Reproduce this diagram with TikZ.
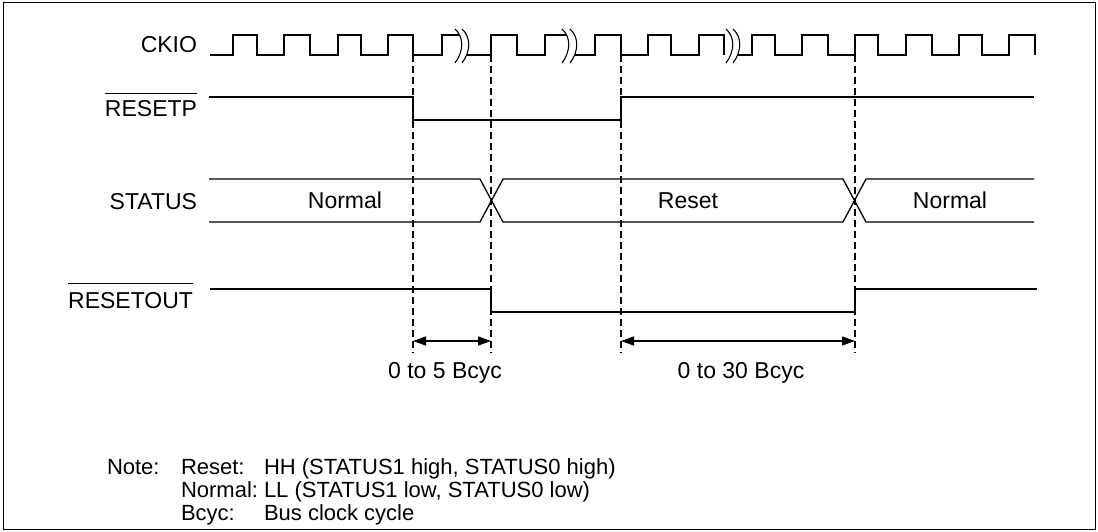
\documentclass[tikz,border=0pt]{standalone}
\usepackage{fontspec}
\setmainfont{Liberation Sans}
\usetikzlibrary{arrows.meta}
\begin{document}
\begin{tikzpicture}[x=1pt,y=-1pt,
  sig/.style={line width=1.3pt, line join=miter},
  guide/.style={line width=1.1pt, dash pattern=on 7pt off 4pt},
  txt/.style={font=\fontsize{23}{27}\selectfont, inner sep=0pt, outer sep=0pt},
  notetxt/.style={font=\fontsize{22}{26}\selectfont, inner sep=0pt, outer sep=0pt},
  dimarrow/.style={line width=1.3pt, {Triangle[length=13pt,width=9pt]}-{Triangle[length=13pt,width=9pt]}},
  brk/.style={line width=1.1pt},
  frame/.style={line width=1pt}]
\useasboundingbox (0,0) rectangle (1098,532);
\draw[frame] (3,3) rectangle (1095,529);

% signal labels
\node[txt, anchor=base east] (lck) at (197,53) {CKIO};
\node[txt, anchor=base east] (lrp) at (197,117) {RESETP};
\node[txt, anchor=base east] (lst) at (197,209) {STATUS};
\node[txt, anchor=base east] (lro) at (193,308) {RESETOUT};
\draw[line width=1pt] ([yshift=7pt]lrp.north west) -- ([yshift=7pt]lrp.north east);
\draw[line width=1pt] ([yshift=8pt]lro.north west) -- ([yshift=8pt]lro.north east);

% CKIO
\draw[sig] (210,55) -- (233,55) -- (233,35) -- (257,35) -- (257,55) -- (284,55) -- (284,35) -- (310,35) -- (310,55) -- (338,55) -- (338,35) -- (361,35) -- (361,55) -- (388,55) -- (388,35) -- (413,35) -- (413,55) -- (442,55) -- (442,35) -- (459,35);
\draw[sig] (467,55) -- (491,55) -- (491,35) -- (517,35) -- (517,55) -- (545,55) -- (545,35) -- (566,35);
\draw[sig] (574,55) -- (595,55) -- (595,35) -- (621,35) -- (621,55) -- (648,55) -- (648,35) -- (671,35) -- (671,55) -- (699,55) -- (699,35) -- (724,35) -- (724,55);
\draw[sig] (737,55) -- (752,55) -- (752,35) -- (775,35) -- (775,55) -- (802,55) -- (802,35) -- (828,35) -- (828,55) -- (855,55) -- (855,35) -- (878,35) -- (878,55) -- (906,55) -- (906,35) -- (932,35) -- (932,55) -- (959,55) -- (959,35) -- (982,35) -- (982,55) -- (1009,55) -- (1009,35) -- (1035,35) -- (1035,55);
% break marks
\foreach \bx in {455,462,562,570,726,733}
  \draw[brk] (\bx,29) .. controls (\bx+9,37) and (\bx+9,51) .. (\bx,63);

% RESETP
\draw[sig] (209,97) -- (413,97) -- (413,120) -- (621,120) -- (621,97) -- (1034,97);

% STATUS
\draw[sig] (209,179) -- (480,179) -- (503,222) -- (843,222) -- (866,179) -- (1034,179);
\draw[sig] (209,222) -- (480,222) -- (503,179) -- (843,179) -- (866,222) -- (1034,222);
\node[txt, anchor=base] (sn1) at (345,208) {Normal};
\node[txt, anchor=base] (sr) at (688,208) {Reset};
\node[txt, anchor=base] (sn2) at (950,208) {Normal};

% RESETOUT
\draw[sig] (210,289) -- (491,289) -- (491,312) -- (855,312) -- (855,289) -- (1037,289);

% guides
\coordinate (g1t) at (413,55); \coordinate (g1b) at (413,353);
\coordinate (g2t) at (491,55); \coordinate (g2b) at (491,353);
\coordinate (g3t) at (621,55); \coordinate (g3b) at (621,353);
\coordinate (g4t) at (855,55); \coordinate (g4b) at (855,353);
\foreach \g in {1,2,3,4} \draw[guide] (g\g t) -- (g\g b);

% dimension arrows
\coordinate (a1l) at (413,341); \coordinate (a1r) at (491,341);
\coordinate (a2l) at (621,341); \coordinate (a2r) at (855,341);
\draw[dimarrow] (a1l) -- (a1r);
\draw[dimarrow] (a2l) -- (a2r);
\node[txt, anchor=base] (d1) at (445,378) {0 to 5 Bcyc};
\node[txt, anchor=base] (d2) at (741,378) {0 to 30 Bcyc};

% notes
\node[notetxt, anchor=base west] (nn) at (107,474) {Note:};
\node[notetxt, anchor=base west] (nr) at (181,474) {Reset:};
\node[notetxt, anchor=base west] (nrv) at (264,474) {HH (STATUS1 high, STATUS0 high)};
\node[notetxt, anchor=base west] (nm) at (181,497) {Normal:};
\node[notetxt, anchor=base west] (nmv) at (264,497) {LL (STATUS1 low, STATUS0 low)};
\node[notetxt, anchor=base west] (nb) at (181,520) {Bcyc:};
\node[notetxt, anchor=base west] (nbv) at (264,520) {Bus clock cycle};
\end{tikzpicture}
\end{document}
